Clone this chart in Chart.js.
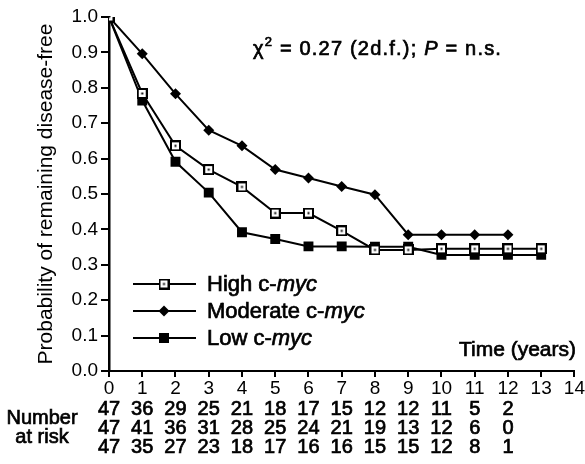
<!DOCTYPE html>
<html>
<head>
<meta charset="utf-8">
<script src="https://cdn.jsdelivr.net/npm/chart.js@4"></script>
<style>
  html, body { margin: 0; padding: 0; background: #fff; }
  #wrap { width: 585px; height: 464px; }
</style>
</head>
<body>
<div id="wrap"><canvas id="myChart" width="585" height="464"></canvas></div>
<script>
// values
const years = [0, 1, 2, 3, 4, 5, 6, 7, 8, 9, 10, 11, 12, 13];
const high = [1.0, 0.784, 0.636, 0.569, 0.520, 0.446, 0.446, 0.396, 0.342, 0.342, 0.345, 0.345, 0.345, 0.345];
const moderate = [1.0, 0.896, 0.783, 0.680, 0.636, 0.569, 0.545, 0.521, 0.498, 0.385, 0.385, 0.385, 0.385];
const low = [1.0, 0.764, 0.591, 0.504, 0.392, 0.373, 0.352, 0.352, 0.351, 0.351, 0.328, 0.328, 0.328, 0.328];

const riskHigh = [47, 36, 29, 25, 21, 18, 17, 15, 12, 12, 11, 5, 2];
const riskModerate = [47, 41, 36, 31, 28, 25, 24, 21, 19, 13, 12, 6, 0];
const riskLow = [47, 35, 27, 23, 18, 17, 16, 16, 15, 15, 12, 8, 1];

const FONT = "'Liberation Sans', Arial, Helvetica, sans-serif";

// open square with a dot in the middle
function openSquare() {
  const c = document.createElement('canvas');
  c.width = 11; c.height = 11;
  const g = c.getContext('2d');
  g.fillStyle = '#000';
  g.fillRect(0, 0, 11, 11);
  g.fillStyle = '#fff';
  g.fillRect(2, 2, 7, 7);
  g.fillStyle = '#000';
  g.fillRect(4.5, 4.5, 2, 2);
  return c;
}
const highMarker = openSquare();

function pts(vals) {
  return vals.map((v, i) => ({x: years[i], y: v}));
}

// slightly heavier than regular, like the printed figure
function medText(ctx, t, x, y) {
  ctx.fillText(t, x, y);
  ctx.lineWidth = 0.7;
  ctx.strokeText(t, x, y);
}

const extras = {
  id: 'extras',
  afterDraw(chart) {
    const ctx = chart.ctx;
    const xs = chart.scales.x;
    ctx.save();
    ctx.fillStyle = '#000';
    ctx.strokeStyle = '#000';

    // y title
    ctx.save();
    ctx.translate(46, 194);
    ctx.rotate(-Math.PI / 2);
    ctx.font = '21px ' + FONT;
    ctx.textAlign = 'center';
    ctx.textBaseline = 'middle';
    ctx.fillText('Probability of remaining disease-free', 0, 0);
    ctx.restore();

    // chi-square note
    ctx.textBaseline = 'alphabetic';
    ctx.textAlign = 'left';
    ctx.letterSpacing = '1.2px';
    let x = 253, y = 55;
    ctx.font = '20px ' + FONT;
    medText(ctx, '\u03c7', x, y); x += ctx.measureText('\u03c7').width;
    ctx.font = '13px ' + FONT;
    medText(ctx, '2', x, y - 9); x += ctx.measureText('2').width;
    ctx.font = '20px ' + FONT;
    let s = ' = 0.27 (2d.f.); ';
    medText(ctx, s, x, y); x += ctx.measureText(s).width;
    ctx.font = 'italic 20px ' + FONT;
    medText(ctx, 'P', x, y); x += ctx.measureText('P').width;
    ctx.font = '20px ' + FONT;
    medText(ctx, ' = n.s.', x, y);
    ctx.letterSpacing = '0px';

    // legend
    const rows = [
      {label: 'High c-', y: 284, kind: 'high'},
      {label: 'Moderate c-', y: 311, kind: 'mod'},
      {label: 'Low c-', y: 338, kind: 'low'}
    ];
    rows.forEach(r => {
      ctx.lineWidth = 2;
      ctx.beginPath();
      ctx.moveTo(133, r.y); ctx.lineTo(196, r.y);
      ctx.stroke();
      if (r.kind === 'high') {
        ctx.drawImage(highMarker, 164 - 5.5, r.y - 5.5);
      } else if (r.kind === 'mod') {
        ctx.beginPath();
        ctx.moveTo(164, r.y - 5.5); ctx.lineTo(169.5, r.y); ctx.lineTo(164, r.y + 5.5); ctx.lineTo(158.5, r.y);
        ctx.closePath(); ctx.fill();
      } else {
        ctx.fillRect(164 - 5, r.y - 5, 10, 10);
      }
      ctx.font = '22px ' + FONT;
      ctx.textBaseline = 'middle';
      medText(ctx, r.label, 207, r.y + 1);
      const w = ctx.measureText(r.label).width;
      ctx.font = 'italic 22px ' + FONT;
      medText(ctx, 'myc', 207 + w, r.y + 1);
    });

    // x title
    ctx.font = '21px ' + FONT;
    ctx.textAlign = 'right';
    ctx.textBaseline = 'middle';
    medText(ctx, 'Time (years)', 576, 350);

    // number at risk
    ctx.font = '20px ' + FONT;
    ctx.textAlign = 'center';
    [riskHigh, riskModerate, riskLow].forEach((row, k) => {
      row.forEach((n, i) => {
        medText(ctx, String(n), xs.getPixelForValue(years[i]), 409 + k * 19);
      });
    });
    medText(ctx, 'Number', 42, 418);
    medText(ctx, 'at risk', 42, 437);
    ctx.restore();
  }
};

new Chart('myChart', {
  type: 'line',
  data: {
    datasets: [{
      label: 'High c-myc',
      data: pts(high),
      borderColor: '#000',
      borderWidth: 2,
      pointStyle: highMarker,
      fill: false
    }, {
      label: 'Moderate c-myc',
      data: pts(moderate),
      borderColor: '#000',
      backgroundColor: '#000',
      borderWidth: 2,
      pointStyle: 'rectRot',
      pointRadius: 5.5,
      pointBorderWidth: 0,
      fill: false
    }, {
      label: 'Low c-myc',
      data: pts(low),
      borderColor: '#000',
      backgroundColor: '#000',
      borderWidth: 2,
      pointStyle: 'rect',
      pointRadius: 7,
      pointBorderWidth: 0,
      fill: false
    }]
  },
  options: {
    responsive: false,
    animation: false,
    events: [],
    layout: {padding: {left: 0, top: 17, right: 9, bottom: 0}},
    plugins: {legend: {display: false}, tooltip: {enabled: false}},
    scales: {
      x: {
        type: 'linear',
        min: 0, max: 14,
        afterFit(scale) { scale.height = 93; },
        ticks: {stepSize: 1, color: '#000', padding: 0, maxRotation: 0,
                font: {family: FONT, size: 19}},
        grid: {drawOnChartArea: false, drawTicks: true, tickLength: 6,
               color: '#000', lineWidth: 2},
        border: {color: '#000', width: 2}
      },
      y: {
        min: 0, max: 1,
        afterFit(scale) { scale.width = 109; },
        ticks: {stepSize: 0.1, color: '#000', padding: 3,
                callback: v => v.toFixed(1),
                font: {family: FONT, size: 19}},
        grid: {drawOnChartArea: false, drawTicks: true, tickLength: 8,
               color: '#000', lineWidth: 2},
        border: {color: '#000', width: 2.5}
      }
    }
  },
  plugins: [extras]
});
</script>
</body>
</html>
